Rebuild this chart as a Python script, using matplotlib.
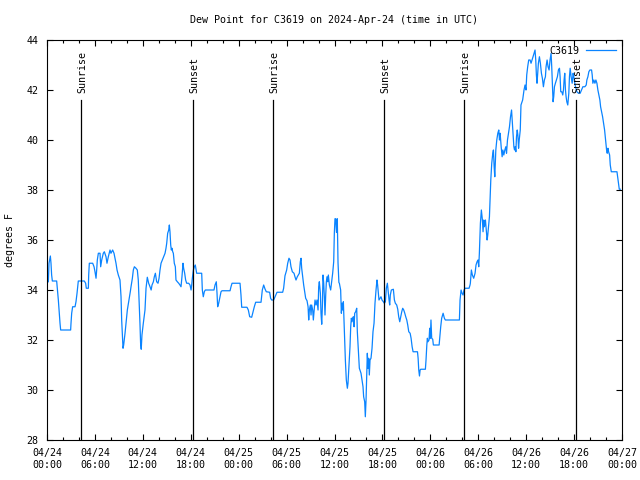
import matplotlib
matplotlib.use("Agg")
import matplotlib.pyplot as plt
from matplotlib.ticker import MultipleLocator

# hours since 2024-04-24 00:00 UTC, dew point in degrees F
hours = [
    0.17, 0.25, 0.42, 0.50, 0.58, 0.67, 1.21, 1.29, 1.42, 1.54, 1.63, 1.71, 2.96, 3.00, 3.09,
    3.21, 3.51, 3.63, 3.76, 3.84, 3.92, 4.67, 4.84, 4.92, 5.18, 5.22, 5.30, 5.72, 5.89, 6.01,
    6.14, 6.22, 6.30, 6.43, 6.64, 6.72, 6.85, 7.05, 7.18, 7.39, 7.51, 7.68, 7.89, 8.01, 8.22,
    8.39, 8.51, 8.64, 8.77, 8.93, 9.14, 9.27, 9.35, 9.43, 9.52, 9.60, 9.77, 9.93, 10.06, 10.27,
    10.43, 10.52, 10.69, 10.81, 10.94, 11.14, 11.31, 11.43, 11.55, 11.64, 11.72, 11.80, 11.89, 12.06,
    12.27, 12.40, 12.56, 12.73, 12.90, 13.04, 13.15, 13.32, 13.44, 13.57, 13.73, 13.90, 14.03, 14.15,
    14.28, 14.44, 14.57, 14.78, 14.90, 14.99, 15.11, 15.24, 15.32, 15.40, 15.49, 15.57, 15.65, 15.74,
    15.82, 15.94, 16.07, 16.15, 16.32, 16.49, 16.65, 16.78, 16.90, 17.03, 17.11, 17.24, 17.36, 17.49,
    17.74, 17.91, 18.04, 18.12, 18.20, 18.33, 18.45, 18.57, 18.74, 19.16, 19.37, 19.45, 19.57, 19.70,
    19.82, 20.91, 21.04, 21.20, 21.29, 21.37, 21.50, 21.66, 21.79, 21.91, 22.92, 23.04, 23.17, 24.17,
    24.29, 24.38, 25.04, 25.21, 25.38, 25.63, 25.80, 25.96, 26.13, 26.80, 26.96, 27.13, 27.30, 27.46,
    27.88, 28.00, 28.13, 28.38, 28.55, 28.80, 29.51, 29.63, 29.80, 30.01, 30.14, 30.30, 30.43, 30.55,
    30.72, 30.93, 31.05, 31.18, 31.34, 31.60, 31.72, 31.81, 31.89, 32.02, 32.14, 32.27, 32.39, 32.56,
    32.69, 32.77, 32.85, 32.98, 33.06, 33.14, 33.27, 33.35, 33.48, 33.56, 33.69, 33.81, 33.94, 34.02,
    34.10, 34.23, 34.31, 34.40, 34.48, 34.56, 34.65, 34.73, 34.81, 34.90, 34.98, 35.06, 35.15, 35.23,
    35.36, 35.52, 35.65, 35.77, 35.90, 35.98, 36.06, 36.15, 36.25, 36.35, 36.44, 36.55, 36.61, 36.77,
    36.86, 36.94, 37.02, 37.11, 37.23, 37.36, 37.48, 37.61, 37.69, 37.82, 37.94, 38.03, 38.11, 38.20,
    38.28, 38.36, 38.45, 38.53, 38.65, 38.78, 38.86, 38.99, 39.11, 39.32, 39.44, 39.57, 39.65, 39.78,
    39.86, 39.95, 40.03, 40.11, 40.20, 40.28, 40.36, 40.45, 40.57, 40.70, 40.82, 40.95, 41.07, 41.20,
    41.32, 41.40, 41.49, 41.57, 41.70, 41.82, 41.95, 42.12, 42.24, 42.37, 42.49, 42.62, 42.74, 42.83,
    42.91, 42.99, 43.12, 43.37, 43.50, 43.62, 43.79, 43.92, 44.04, 44.17, 44.29, 44.42, 44.54, 44.67,
    44.80, 44.92, 45.05, 45.17, 45.30, 45.47, 45.59, 45.72, 45.84, 46.39, 46.47, 46.55, 46.64, 46.72,
    46.80, 47.38, 47.46, 47.56, 47.63, 47.70, 47.84, 47.92, 48.00, 48.08, 48.17, 48.30, 48.38, 49.10,
    49.17, 49.30, 49.42, 49.60, 49.76, 49.88, 51.64, 51.72, 51.85, 51.97, 52.10, 52.22, 52.35, 52.85,
    52.97, 53.01, 53.14, 53.26, 53.43, 53.60, 53.72, 53.85, 53.97, 54.06, 54.14, 54.27, 54.39, 54.52,
    54.60, 54.69, 54.77, 54.90, 55.02, 55.11, 55.19, 55.32, 55.40, 55.48, 55.57, 55.69, 55.82, 55.90,
    55.99, 56.07, 56.20, 56.32, 56.45, 56.57, 56.66, 56.74, 56.87, 56.99, 57.08, 57.20, 57.33, 57.45,
    57.54, 57.66, 57.79, 57.91, 58.04, 58.17, 58.25, 58.33, 58.46, 58.54, 58.63, 58.71, 58.79, 58.88,
    58.96, 59.05, 59.13, 59.26, 59.35, 59.56, 59.73, 59.86, 59.98, 60.07, 60.19, 60.32, 60.49, 60.61,
    60.74, 60.86, 60.99, 61.11, 61.20, 61.28, 61.36, 61.45, 61.53, 61.66, 61.78, 61.91, 62.03, 62.16,
    62.28, 62.41, 62.49, 62.62, 62.74, 62.87, 62.99, 63.12, 63.20, 63.29, 63.37, 63.45, 63.54, 63.66,
    63.79, 63.91, 64.04, 64.17, 64.25, 64.33, 64.46, 64.58, 64.67, 64.75, 64.83, 64.92, 65.00, 65.09,
    65.21, 65.34, 65.42, 65.51, 65.63, 65.76, 65.88, 65.97, 66.05, 66.18, 66.35, 66.55, 66.76, 66.93,
    67.10, 67.35, 67.52, 67.60, 67.73, 67.85, 67.98, 68.19, 68.27, 68.35, 68.48, 68.61, 68.73, 68.86,
    68.98, 69.11, 69.23, 69.32, 69.44, 69.57, 69.69, 69.82, 69.95, 70.07, 70.15, 70.24, 70.32, 70.45,
    70.53, 70.66, 71.37, 71.45, 71.58, 71.66, 71.78,
]
dewpoint = [
    34.33, 35.07, 35.36, 35.07, 34.60, 34.36, 34.36, 34.07, 33.60, 33.07, 32.67, 32.40, 32.40, 32.64, 33.07,
    33.33, 33.33, 33.53, 33.87, 34.13, 34.36, 34.36, 34.27, 34.07, 34.07, 34.60, 35.07, 35.07, 34.93, 34.73,
    34.47, 34.80, 35.20, 35.47, 35.47, 34.93, 35.20, 35.47, 35.53, 35.33, 35.07, 35.33, 35.60, 35.47, 35.60,
    35.47, 35.27, 35.07, 34.80, 34.60, 34.40, 33.73, 32.80, 32.27, 31.67, 31.80, 32.27, 32.80, 33.20, 33.60,
    33.93, 34.13, 34.47, 34.80, 34.93, 34.87, 34.80, 34.40, 33.47, 32.67, 31.87, 31.63, 32.20, 32.67,
    33.20, 34.07, 34.51, 34.27, 34.13, 34.00, 34.20, 34.33, 34.53, 34.67, 34.33, 34.27, 34.47, 34.80,
    35.07, 35.20, 35.31, 35.47, 35.67, 35.87, 36.27, 36.40, 36.60, 36.33, 35.80, 35.60, 35.67, 35.53,
    35.47, 35.07, 34.93, 34.40, 34.33, 34.27, 34.20, 34.13, 34.53, 35.07, 34.87, 34.67, 34.40, 34.27,
    34.27, 34.20, 34.00, 34.20, 34.47, 34.80, 34.93, 35.00, 34.67, 34.67, 34.67, 34.00, 33.73, 33.93,
    34.00, 34.00, 34.20, 34.33, 33.87, 33.33, 33.47, 33.73, 33.93, 33.97, 33.97, 34.13, 34.27, 34.27,
    33.80, 33.31, 33.31, 33.20, 32.93, 32.91, 33.13, 33.33, 33.51, 33.51, 34.00, 34.20, 34.04, 33.93,
    33.91, 33.67, 33.60, 33.60, 33.73, 33.91, 33.91, 34.07, 34.57, 34.80, 35.07, 35.27, 35.20, 34.93,
    34.73, 34.67, 34.53, 34.40, 34.53, 34.67, 35.13, 35.27, 34.87, 34.53, 34.20, 33.93, 33.67, 33.57,
    33.33, 32.80, 33.20, 33.40, 33.00, 33.40, 33.20, 32.80, 33.33, 33.60, 33.40, 33.60, 33.20, 34.13,
    34.33, 33.87, 33.07, 32.63, 33.33, 34.60, 34.27, 33.73, 33.00, 33.80, 34.33, 34.53, 34.33, 34.60,
    34.20, 34.00, 34.33, 34.67, 35.13, 36.27, 36.85, 36.85, 36.30, 36.85, 35.10, 34.30, 34.27, 34.00,
    33.07, 33.47, 33.20, 33.53, 32.40, 31.20, 30.40, 30.07, 30.27, 31.00, 31.73, 32.53, 32.87, 32.73,
    32.87, 32.93, 32.53, 33.07, 33.13, 33.27, 32.33, 31.53, 30.87, 30.67, 30.40, 30.13, 29.73, 29.53,
    28.93, 29.60, 30.47, 31.47, 30.87, 31.27, 30.60, 31.20, 31.27, 31.67, 32.33, 32.67, 33.47, 34.00,
    34.40, 34.20, 33.87, 33.60, 33.67, 33.73, 33.60, 33.53, 33.47, 33.53, 34.07, 34.27, 33.87, 33.60,
    33.40, 33.80, 34.00, 34.03, 33.60, 33.47, 33.40, 33.23, 32.93, 32.73, 32.93, 33.13, 33.27, 33.20,
    33.07, 32.93, 32.80, 32.60, 32.33, 32.27, 32.07, 31.73, 31.53, 31.53, 31.27, 30.80, 30.56, 30.80,
    30.83, 30.83, 31.20, 31.80, 32.07, 31.93, 32.00, 32.47, 32.07, 32.80, 32.07, 32.03, 31.80, 31.80,
    32.07, 32.53, 32.87, 33.07, 32.87, 32.80, 32.80, 33.60, 34.00, 33.87, 33.80, 34.00, 34.07, 34.07,
    34.20, 34.27, 34.80, 34.60, 34.47, 34.67, 35.00, 35.13, 35.20, 34.93, 35.47, 36.67, 37.20, 36.80,
    36.33, 36.80, 36.53, 36.80, 36.33, 36.00, 36.20, 36.67, 36.93, 37.60, 38.40, 39.07, 39.47, 39.60,
    38.93, 38.53, 39.60, 40.00, 40.27, 40.40, 40.00, 40.27, 39.73, 39.33, 39.60, 39.40, 39.60, 39.73,
    39.47, 40.00, 40.27, 40.53, 40.93, 41.20, 40.80, 40.40, 39.73, 39.60, 39.73, 39.53, 40.13, 40.40,
    40.20, 39.67, 40.00, 40.40, 41.40, 41.60, 42.00, 42.20, 42.00, 42.60, 42.93, 43.20, 43.20, 43.07,
    43.20, 43.33, 43.47, 43.60, 43.20, 42.60, 42.27, 42.67, 43.07, 43.33, 43.07, 42.67, 42.47, 42.13,
    42.40, 42.53, 42.93, 43.20, 42.93, 42.80, 43.20, 43.47, 42.93, 42.13, 41.53, 41.73, 42.13, 42.27,
    42.40, 42.53, 42.80, 42.87, 42.53, 41.93, 41.93, 41.80, 42.00, 42.40, 42.67, 42.00, 41.73, 41.53,
    41.40, 41.87, 42.53, 42.87, 42.53, 42.27, 42.67, 42.53, 42.33, 42.13, 41.93, 41.87, 41.87, 42.00,
    42.13, 42.13, 42.20, 42.40, 42.53, 42.73, 42.80, 42.80, 42.60, 42.27, 42.40, 42.27, 42.40, 42.27,
    42.00, 41.80, 41.60, 41.33, 41.13, 40.93, 40.67, 40.40, 40.00, 39.60, 39.47, 39.67, 39.53, 39.40,
    39.00, 38.73, 38.73, 38.53, 38.20, 38.03, 38.03,
]

sun_hours = [4.27, 18.28, 28.3, 42.2, 52.2, 66.22]
sun_labels = ["Sunrise", "Sunset", "Sunrise", "Sunset", "Sunrise", "Sunset"]

tick_hours = list(range(0, 73, 6))
tick_labels = ["04/24\n00:00", "04/24\n06:00", "04/24\n12:00", "04/24\n18:00",
               "04/25\n00:00", "04/25\n06:00", "04/25\n12:00", "04/25\n18:00",
               "04/26\n00:00", "04/26\n06:00", "04/26\n12:00", "04/26\n18:00",
               "04/27\n00:00"]

plt.rcParams['font.family'] = ['DejaVu Sans Mono']
plt.rcParams['font.size'] = 7.2

fig = plt.figure(figsize=(6.4, 4.8), dpi=100)
ax = fig.add_axes([47 / 640, 40 / 480, 575 / 640, 400 / 480])

ax.plot(hours, dewpoint, color='#0a84ff', lw=0.9, label='C3619')

for h, name in zip(sun_hours, sun_labels):
    ax.axvline(h, ymin=0, ymax=0.85, color='black', lw=0.9)
    ax.text(h + 0.15, 0.868, name, rotation=90, ha='center', va='bottom',
            transform=ax.get_xaxis_transform())

ax.set_xlim(0, 72)
ax.set_ylim(28, 44)
ax.set_xticks(tick_hours)
ax.set_xticklabels(tick_labels)
ax.xaxis.set_minor_locator(MultipleLocator(2))
ax.set_yticks(range(28, 45, 2))

ax.tick_params(which='both', direction='in', top=True, right=True, width=0.8)
ax.tick_params(which='major', length=4, pad=6)
ax.tick_params(axis='y', which='major', pad=6)
ax.tick_params(which='minor', length=2)
for s in ax.spines.values():
    s.set_linewidth(0.8)

ax.legend(loc='upper right', frameon=False, markerfirst=False, handlelength=3.0,
          handletextpad=0.7, borderaxespad=0.6, borderpad=0.0)

fig.text((47 + 622) / 2 / 640, 1 - 20 / 480, 'Dew Point for C3619 on 2024-Apr-24 (time in UTC)',
         ha='center', va='center')
fig.text(10 / 640, 0.5, 'degrees F', rotation=90, ha='center', va='center')

fig.savefig('out.png', dpi=100)
